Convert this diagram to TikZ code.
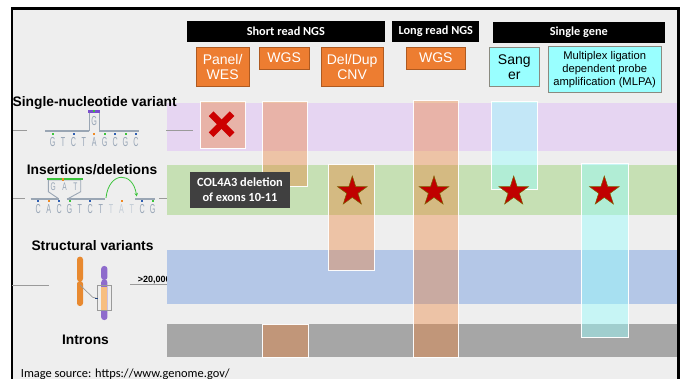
\documentclass[tikz,border=0pt]{standalone}
\usepackage{fontspec}
\setmainfont{Liberation Sans}
\newfontfamily\calib{Carlito}
\usetikzlibrary{shapes.geometric,arrows.meta}

\definecolor{bgc}{HTML}{EEEEEE}
\definecolor{snvband}{HTML}{E6D5F2}
\definecolor{indelband}{HTML}{C6E0B4}
\definecolor{svband}{HTML}{B4C7E7}
\definecolor{intronband}{HTML}{A6A6A6}
\definecolor{orng}{HTML}{ED7D31}
\definecolor{orngedge}{HTML}{AE5A21}
\definecolor{cyanbox}{HTML}{99FFFF}
\definecolor{cyanedge}{HTML}{8A8A80}
\definecolor{starred}{HTML}{C00000}
\definecolor{staredge}{HTML}{7F6000}
\definecolor{xred}{HTML}{CC0000}
\definecolor{labelgray}{HTML}{404040}
\definecolor{dnagray}{HTML}{9AA6B4}
\definecolor{dnaletter}{HTML}{97A5B6}
\definecolor{dnafaint}{HTML}{C3CCD6}
\definecolor{dnagreen}{HTML}{3CC43C}
\definecolor{dnablue}{HTML}{2F5FB3}
\definecolor{dnaorange}{HTML}{F08A24}
\definecolor{dnapurple}{HTML}{7A4FCB}
\definecolor{chromorange}{HTML}{E8892F}
\definecolor{chrompurple}{HTML}{8E6BCC}
\definecolor{chrompeach}{HTML}{F7BE81}
\definecolor{guide}{HTML}{9A9A9A}

\tikzset{
  rowlabel/.style={font=\bfseries\fontsize{13.8}{16}\selectfont, inner sep=0pt},
  headbar/.style={fill=black, text=white, inner sep=0pt,
    font=\calib\bfseries\fontsize{12.3}{14}\selectfont},
  methodbox/.style={fill=orng, draw=orngedge, line width=0.8pt, text=white,
    inner sep=0pt, align=center, font=\fontsize{14}{15}\selectfont},
  genebox/.style={fill=cyanbox, draw=cyanedge, line width=0.8pt, text=black,
    inner sep=0pt, align=center},
  orcol/.style={fill=orng, fill opacity=0.38, draw=white, draw opacity=0.8, line width=0.8pt},
  cycol/.style={fill=cyanbox, fill opacity=0.45, draw=white, draw opacity=0.9, line width=0.8pt},
  hit/.style={star, star points=5, star point ratio=2.618, minimum size=31pt,
    inner sep=0pt, fill=starred, draw=staredge, line width=0.5pt},
  dnalet/.style={text=dnaletter, inner sep=0pt, font=\fontsize{13}{13}\selectfont},
  dnabar/.style={draw=dnagray, line width=2pt},
  dnathin/.style={draw=dnagray, line width=0.9pt},
  guideline/.style={draw=guide, line width=1pt},
}

\begin{document}
\begin{tikzpicture}[x=1pt,y=-1pt]
\useasboundingbox (0,0) rectangle (685,379);
\fill[white] (0,0) rectangle (685,379);
\fill[bgc] (12,8.5) rectangle (678.5,379);

% size label, its tail runs under the structural-variant band
\node[anchor=west, inner sep=0pt, font=\bfseries\fontsize{9}{10}\selectfont] (svsize) at (137.7,280.5) {>20,000};

% variant-type bands
\fill[snvband] (166.5,103) rectangle (677,151);
\fill[indelband] (166.5,165) rectangle (677,215);
\fill[svband] (166.5,250) rectangle (677,304);
\fill[intronband] (166.5,324) rectangle (677,356.7);

% frame
\draw[line width=2.5pt] (12,379) -- (12,8.5) -- (678.5,8.5) -- (678.5,379);

% row labels
\node[rowlabel] (snvlab) at (94.7,102.7) {Single-nucleotide variant};
\node[rowlabel] (indlab) at (92,170) {Insertions/deletions};
\node[rowlabel] (svlab) at (92.5,246) {Structural variants};
\node[rowlabel] (intlab) at (85.5,340) {Introns};

% ---- single-nucleotide variant sketch
\draw[guideline] (13,131) -- (27,131);
\draw[guideline] (166,131) -- (193,131);
\draw[dnabar] (45,131.5) -- (89.3,131.5);
\draw[dnabar] (99,131.5) -- (139.3,131.5);
\draw[dnathin] (89.3,131.5) -- (89.3,112) -- (99,112) -- (99,131.5);
\draw[dnapurple, line width=2.6pt] (88.3,111.3) -- (100,111.3);
\fill[dnagreen] (93,110) rectangle (95,112.5);
\node[dnalet] (snvalt) at (94.2,121.5) {\scalebox{0.55}[1]{G}};
\foreach \l [count=\i from 0] in {G,T,C,T,A,G,C,G,C}
  \node[dnalet] (snv\i) at ({52.7+10.4*\i},141.7) {\scalebox{0.55}[1]{\l}};
\foreach \px/\c in {52.7/dnagreen,73.5/dnablue,94.3/dnaorange,104.7/dnagreen,115.1/dnablue,125.5/dnagreen,135.9/dnablue}
  \fill[\c] (\px-1,132.6) rectangle (\px+1,134.6);

% ---- insertion/deletion sketch
\draw[guideline] (13,198.3) -- (25,198.3);
\draw[guideline] (159,198.3) -- (167,198.3);
\draw[dnabar] (30.7,199.3) -- (59.3,199.3);
\draw[dnabar] (66.7,199.3) -- (105,199.3);
\draw[dnabar] (135,199.3) -- (155,199.3);
\draw[dnathin] (58.3,198.5) -- (48.3,191.7) -- (48.3,180) -- (80.7,180) -- (80.7,191.7) -- (68.3,198.5);
\draw[dnagreen, line width=2.4pt] (46.7,179.3) -- (82.7,179.3);
\fill[dnaorange] (62.3,178) rectangle (64.3,180.6);
\foreach \l/\px [count=\i] in {G/53.3,A/64.5,T/75.5}
  \node[dnalet, font=\fontsize{11}{11}\selectfont] (ins\i) at (\px,186.5) {\scalebox{0.6}[1]{\l}};
% kept bases, then the three deleted ones in a paler tone
\foreach \l/\i in {C/0,A/1,C/2,G/3,T/4,C/5,T/6,C/10,G/11}
  \node[dnalet] (del\i) at ({38.3+10.4*\i},209.5) {\scalebox{0.55}[1]{\l}};
\foreach \l/\i in {T/7,A/8,T/9}
  \node[dnalet, text=dnafaint] (del\i) at ({38.3+10.4*\i},209.5) {\scalebox{0.55}[1]{\l}};
\foreach \px/\c in {38.3/dnablue,48.7/dnaorange,59.1/dnablue,69.5/dnagreen,90.3/dnablue,121.5/dnaorange,142.3/dnablue,152.7/dnagreen}
  \fill[\c] (\px-1,200.4) rectangle (\px+1,202.4);
\coordinate (arcA) at (106,197.8);
\coordinate (arcB) at (136.7,196.5);
\draw[dnagreen, line width=0.8pt, -{Stealth[length=3.5pt,width=3.5pt]}]
  (arcA) .. controls (109,171) and (133,171) .. (arcB);

% ---- structural variant sketch
\draw[guideline] (12,285) -- (49.3,285);
\draw[guideline] (130,284.5) -- (166.7,284.5);
\fill[chromorange, rounded corners=2.8pt] (77,256.7) rectangle (83,281.5);
\fill[chromorange, rounded corners=2.8pt] (77,281) rectangle (83,306);
\fill[chrompurple, rounded corners=2.8pt] (101.2,266) rectangle (107.4,280);
\fill[chrompurple, rounded corners=2.8pt] (101.2,279.5) rectangle (107.4,320);
\fill[chrompeach] (101.2,286.7) rectangle (107.4,310.7);
\draw[guide, line width=0.5pt] (97.3,285.7) rectangle (111.7,310.7);
\draw[guide, line width=0.7pt] (80,285) -- (92.7,297.3) -- (96.5,298.2);
\draw[dnablue!70!black, line width=1.4pt] (95.3,298.3) -- (98.3,298.3);

% ---- method columns
\fill[orcol] (200.7,101) rectangle (245.7,148.3);
\fill[orcol] (262,101.5) rectangle (307.5,186.7);
\fill[orcol] (262.7,324) rectangle (308.5,357);
\fill[orcol] (328.3,164) rectangle (374,270.7);
\fill[orcol] (413,100) rectangle (458.5,357);
\fill[cycol] (491.3,101.7) rectangle (537.7,189.3);
\fill[cycol] (581.3,163.3) rectangle (628.3,337.3);
\draw[orcol, fill opacity=0] (200.7,101) rectangle (245.7,148.3);
\draw[orcol, fill opacity=0] (262,101.5) rectangle (307.5,186.7);
\draw[orcol, fill opacity=0] (262.7,324) rectangle (308.5,357);
\draw[orcol, fill opacity=0] (328.3,164) rectangle (374,270.7);
\draw[orcol, fill opacity=0] (413,100) rectangle (458.5,357);
\draw[cycol, fill opacity=0] (491.3,101.7) rectangle (537.7,189.3);
\draw[cycol, fill opacity=0] (581.3,163.3) rectangle (628.3,337.3);

% not detected
\draw[xred, line width=6.6pt] (211.1,113.7) -- (232.1,134.7);
\draw[xred, line width=6.6pt] (232.1,113.7) -- (211.1,134.7);

% detected
\node[hit] (st1) at (352.3,191.5) {};
\node[hit] (st2) at (434,191.5) {};
\node[hit] (st3) at (513.7,191.5) {};
\node[hit] (st4) at (604.3,191.5) {};

% case note
\node[fill=labelgray, text=white, inner sep=0pt, minimum width=100pt, minimum height=36pt,
  align=center, font=\calib\bfseries\fontsize{12.4}{15}\selectfont] (note) at (240,189.7)
  {COL4A3 deletion\\of exons 10-11};

% headers
\node[headbar, minimum width=198.3pt, minimum height=20.7pt] (hshort) at (285.85,31.35) {Short read NGS};
\node[headbar, minimum width=87pt, minimum height=21pt] (hlong) at (435.8,31.5) {Long read NGS};
\node[headbar, minimum width=172.3pt, minimum height=20.4pt] (hsingle) at (578.85,32.5) {Single gene};

\node[methodbox, minimum width=53.3pt, minimum height=39.4pt] (panel) at (222.65,67) {Panel/\\WES};
\node[methodbox, minimum width=50.3pt, minimum height=22.3pt] (wgsshort) at (284.15,58.15) {WGS};
\node[methodbox, minimum width=62.3pt, minimum height=39.7pt] (deldup) at (352.15,66.85) {Del/Dup\\CNV};
\node[methodbox, minimum width=58.3pt, minimum height=22pt] (wgslong) at (435.85,58) {WGS};
\node[genebox, minimum width=50pt, minimum height=39.4pt, font=\fontsize{14}{15}\selectfont] (sanger) at (514.3,67) {Sang\\er};
\node[genebox, minimum width=112.7pt, minimum height=46pt, font=\fontsize{11.2}{13.2}\selectfont] (mlpa) at (604.65,69.7)
  {Multiplex ligation\\dependent probe\\amplification (MLPA)};

% source line
\node[anchor=west, inner sep=0pt, font=\calib\fontsize{12.4}{14}\selectfont] (src) at (20.7,374)
  {Image source: https://www.genome.gov/};
\end{tikzpicture}
\end{document}
